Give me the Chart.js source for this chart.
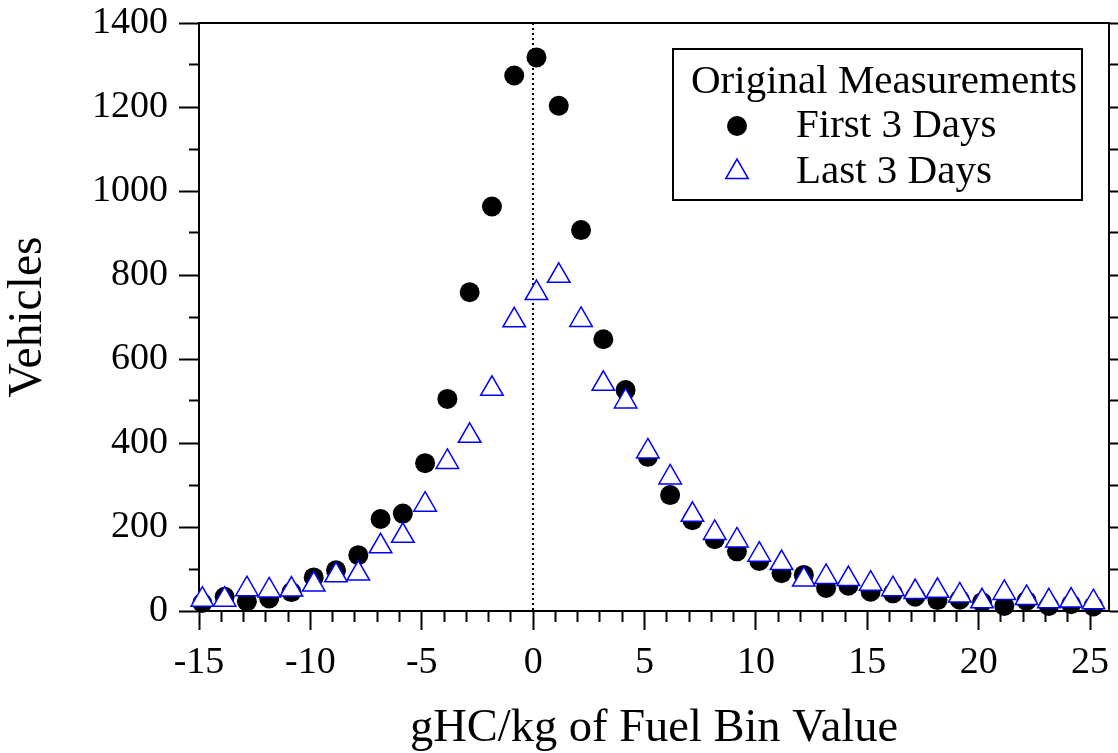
<!DOCTYPE html>
<html>
<head>
<meta charset="utf-8">
<script src="https://cdn.jsdelivr.net/npm/chart.js@4.4.1/dist/chart.umd.min.js"></script>
<style>
  html, body { margin: 0; padding: 0; background: #fff; }
  #wrap { width: 1118px; height: 753px; }
</style>
</head>
<body>
<div id="wrap"><canvas id="grafico" width="1118" height="753"></canvas></div>
<script>
// bin centres (gHC/kg) - points sit a little right of the integer ticks
const binValues = [-14.85, -13.85, -12.85, -11.85, -10.85, -9.85, -8.85, -7.85, -6.85, -5.85,
  -4.85, -3.85, -2.85, -1.85, -0.85, 0.15, 1.15, 2.15, 3.15, 4.15,
  5.15, 6.15, 7.15, 8.15, 9.15, 10.15, 11.15, 12.15, 13.15, 14.15,
  15.15, 16.15, 17.15, 18.15, 19.15, 20.15, 21.15, 22.15, 23.15, 24.15, 25.15];

const firstDays = [19, 34, 23, 30, 45, 80, 97, 133, 219, 232,
  352, 505, 759, 963, 1275, 1318, 1203, 907, 647, 526,
  367, 276, 216, 171, 142, 119, 90, 86, 55, 60,
  46, 42, 34, 26, 27, 21, 12, 24, 12, 16, 11];

const lastDays = [27, 27, 52, 49, 51, 63, 85, 89, 154, 179,
  253, 355, 417, 529, 692, 757, 798, 693, 541, 499,
  380, 318, 229, 186, 168, 134, 114, 75, 81, 76,
  65, 52, 45, 48, 37, 23, 43, 31, 23, 25, 21];

const yMajorTicks = [0, 200, 400, 600, 800, 1000, 1200, 1400];
const yMinorTicks = [100, 300, 500, 700, 900, 1100, 1300];
const xMajorTicks = [-15, -10, -5, 0, 5, 10, 15, 20, 25];
const xMinorTicks = [-14, -13, -12, -11, -9, -8, -7, -6, -4, -3, -2, -1,
  1, 2, 3, 4, 6, 7, 8, 9, 11, 12, 13, 14, 16, 17, 18, 19, 21, 22, 23, 24];
const xRefLine = [0];

const seriesNames = ['First 3 Days', 'Last 3 Days'];
const legendTitle = 'Original Measurements';
const xTitle = 'gHC/kg of Fuel Bin Value';
const yTitle = 'Vehicles';

const fuente = "'Liberation Serif', 'Times New Roman', serif";
const azul = '#0000ff';

const yTicksAll = [...yMajorTicks, ...yMinorTicks].sort((a, b) => a - b);
const xTicksAll = [...xMajorTicks, ...xMinorTicks].sort((a, b) => a - b);

function esMenorY(ctx) { return ctx.tick && yMinorTicks.includes(ctx.tick.value); }
function esMenorX(ctx) { return ctx.tick && xMinorTicks.includes(ctx.tick.value); }

// fix the box sizes so the plot area lands where the original has it
function fijar(size, horizontal) {
  return (axis) => {
    if (horizontal) axis.height = size; else axis.width = size;
    axis.paddingTop = 0;
    axis.paddingBottom = 0;
    axis.paddingLeft = 0;
    axis.paddingRight = 0;
  };
}

// legend box drawn inside the plot area, like the original
const leyendaCaja = {
  id: 'leyendaCaja',
  afterDraw(chart) {
    const ctx = chart.ctx;
    const area = chart.chartArea;
    const left = area.right - 436;
    const top = area.top + 26;
    ctx.save();
    ctx.lineWidth = 2;
    ctx.strokeStyle = '#000';
    ctx.strokeRect(left, top, 409, 151);

    ctx.fillStyle = '#000';
    ctx.font = '41px ' + fuente;
    ctx.textBaseline = 'alphabetic';
    ctx.textAlign = 'left';
    ctx.fillText(legendTitle, left + 18, top + 44);

    // circle marker
    ctx.beginPath();
    ctx.arc(left + 64, top + 77, 10, 0, Math.PI * 2);
    ctx.fill();
    ctx.fillText(seriesNames[0], left + 123, top + 88);

    // triangle marker
    const tx = left + 64, ty = top + 123, r = 13;
    ctx.beginPath();
    ctx.moveTo(tx, ty - r);
    ctx.lineTo(tx + r * Math.sin(2 * Math.PI / 3), ty + r / 2);
    ctx.lineTo(tx - r * Math.sin(2 * Math.PI / 3), ty + r / 2);
    ctx.closePath();
    ctx.fillStyle = '#fff';
    ctx.fill();
    ctx.lineWidth = 1.5;
    ctx.strokeStyle = azul;
    ctx.stroke();
    ctx.fillStyle = '#000';
    ctx.fillText(seriesNames[1], left + 123, top + 134);
    ctx.restore();
  }
};

const ctx = document.getElementById('grafico').getContext('2d');

const myChart = new Chart(ctx, {
  type: 'scatter',
  data: {
    datasets: [
      {
        label: seriesNames[0],
        data: binValues.map((x, i) => ({ x: x, y: firstDays[i] })),
        pointStyle: 'circle',
        pointRadius: 10,
        backgroundColor: '#000',
        borderColor: '#000',
        borderWidth: 0,
        order: 2,
        clip: false
      },
      {
        label: seriesNames[1],
        data: binValues.map((x, i) => ({ x: x, y: lastDays[i] })),
        pointStyle: 'triangle',
        pointRadius: 13,
        backgroundColor: '#fff',
        borderColor: azul,
        borderWidth: 1.5,
        order: 1,
        clip: false
      }
    ]
  },
  options: {
    responsive: false,
    animation: false,
    devicePixelRatio: 1,
    layout: { padding: 0, autoPadding: false },
    plugins: {
      legend: { display: false },
      tooltip: { enabled: false }
    },
    scales: {
      // dotted reference line at 0 (its only grid line)
      xZero: {
        type: 'linear',
        position: 'bottom',
        weight: 0,
        min: -15,
        max: 25.85,
        afterBuildTicks: (axis) => { axis.ticks = xRefLine.map(v => ({ value: v })); },
        afterFit: fijar(0, true),
        border: { display: false, dash: [2, 3] },
        grid: { drawOnChartArea: true, drawTicks: false, color: '#000', lineWidth: 2, borderDash: [2, 3] },
        ticks: { display: false }
      },
      x: {
        type: 'linear',
        position: 'bottom',
        weight: 1,
        min: -15,
        max: 25.85,
        afterBuildTicks: (axis) => { axis.ticks = xTicksAll.map(v => ({ value: v })); },
        afterFit: fijar(142, true),
        border: { display: true, color: '#000', width: 2 },
        grid: {
          drawOnChartArea: false,
          drawTicks: true,
          tickLength: 19,
          tickWidth: 2,
          tickColor: '#000',
          tickBorderDash: (c) => esMenorX(c) ? [10, 100] : []
        },
        ticks: {
          autoSkip: false,
          maxRotation: 0,
          padding: 10,
          color: '#000',
          font: { family: fuente, size: 38 },
          callback: (v) => xMajorTicks.includes(v) ? String(v) : ''
        },
        title: {
          display: true,
          text: xTitle,
          color: '#000',
          font: { family: fuente, size: 46.5, lineHeight: 1 },
          padding: { top: 0, bottom: 1 }
        }
      },
      xTop: {
        type: 'linear',
        position: 'top',
        min: -15,
        max: 25.85,
        afterFit: fijar(23, true),
        border: { display: true, color: '#000', width: 2 },
        grid: { display: false, drawTicks: false },
        ticks: { display: false }
      },
      y: {
        type: 'linear',
        position: 'left',
        min: 0,
        max: 1400,
        afterBuildTicks: (axis) => { axis.ticks = yTicksAll.map(v => ({ value: v })); },
        afterFit: fijar(199, false),
        border: { display: true, color: '#000', width: 2 },
        grid: {
          drawOnChartArea: false,
          drawTicks: true,
          tickLength: 20,
          tickWidth: 2,
          tickColor: '#000',
          tickBorderDash: (c) => esMenorY(c) ? [0, 10, 10] : []
        },
        ticks: {
          autoSkip: false,
          padding: 11,
          color: '#000',
          font: { family: fuente, size: 38 },
          callback: (v) => yMajorTicks.includes(v) ? String(v) : ''
        },
        title: {
          display: true,
          text: yTitle,
          color: '#000',
          font: { family: fuente, size: 47.5, lineHeight: 1 },
          padding: { top: 4.5, bottom: 0 }
        }
      },
      yRight: {
        type: 'linear',
        position: 'right',
        min: 0,
        max: 1400,
        afterBuildTicks: (axis) => { axis.ticks = yTicksAll.map(v => ({ value: v })); },
        afterFit: fijar(9, false),
        border: { display: true, color: '#000', width: 2 },
        grid: {
          drawOnChartArea: false,
          drawTicks: true,
          tickLength: 20,
          tickWidth: 2,
          tickColor: '#000',
          tickBorderDash: (c) => esMenorY(c) ? [10, 100] : []
        },
        ticks: { display: false }
      }
    }
  },
  plugins: [leyendaCaja]
});
</script>
</body>
</html>
